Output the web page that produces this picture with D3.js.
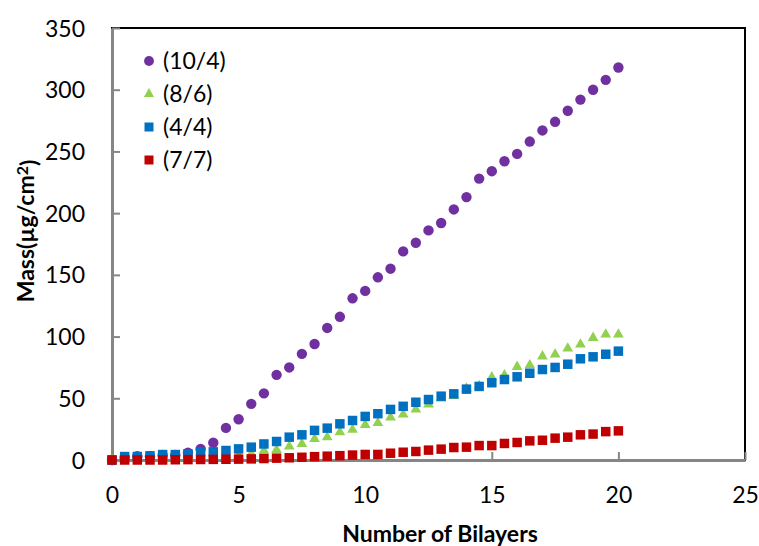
<!DOCTYPE html>
<html>
<head>
<meta charset="utf-8">
<script src="https://cdn.jsdelivr.net/npm/d3@7"></script>
<style>
  body { margin: 0; background: white; }
  text { font-family: Lato, "Open Sans", sans-serif; }
</style>
</head>
<body>
<svg id="chart" width="759" height="546"></svg>
<script>
/* DATA */

// Number of bilayers, 0 to 20 in half steps
const bilayers = [0, 0.5, 1, 1.5, 2, 2.5, 3, 3.5, 4, 4.5, 5, 5.5, 6, 6.5, 7, 7.5, 8, 8.5, 9, 9.5, 10,
  10.5, 11, 11.5, 12, 12.5, 13, 13.5, 14, 14.5, 15, 15.5, 16, 16.5, 17, 17.5, 18, 18.5, 19, 19.5, 20]

const mass10_4 = [0, 2, 3, 3, 4, 4, 6, 9, 14, 26, 33, 45.5, 54, 69, 75, 86, 94, 107, 116, 131, 137,
  148, 155, 169, 176, 186, 192, 203, 213, 228, 234, 242, 248, 258, 267, 274, 283, 292, 300, 308, 318]
const mass8_6 = [0, 0.5, 1, 1, 1.5, 1.5, 2, 2, 2.5, 3, 3.5, 5, 7.5, 8.2, 11, 13, 17, 18.5, 22.5, 24.5, 28.5,
  30, 34.5, 37, 41, 45, 50, 52, 58, 60, 67, 68.7, 75.5, 76.8, 84, 85.5, 90.4, 93.6, 99, 101.7, 101.7]
const mass4_4 = [0, 2.8, 2.8, 3.4, 4.4, 4.4, 5, 6.6, 6.6, 7.7, 9, 10.4, 13, 15, 18.5, 20.4, 24, 25.8, 29.3, 32, 35.3,
  37.5, 41, 43.5, 46.8, 49, 51.7, 53.6, 57.4, 59.6, 62.6, 65.2, 67.4, 70.3, 73.3, 75, 77.6, 82, 83.6, 85.7, 88.2]
const mass7_7 = [0, 0, 0, 0, 0, 0.2, 0.3, 0.4, 0.5, 0.6, 0.7, 0.9, 1.2, 1.5, 1.8, 2.2, 2.7, 3.1, 3.5, 4, 4.5,
  4.5, 5.5, 6.3, 6.9, 8, 8.8, 10.1, 10.4, 11.7, 11.7, 13.4, 14.2, 15.5, 16, 17.7, 18.5, 20.4, 21, 23, 23.6]

const seriesNames = ['(10/4)', '(8/6)', '(4/4)', '(7/7)']
const seriesValues = [mass10_4, mass8_6, mass4_4, mass7_7]

const xTicks = [0, 5, 10, 15, 20, 25]
const yTicks = [0, 50, 100, 150, 200, 250, 300, 350]

/* STYLE */

const purple = '#7030a0'
const green = '#92d050'
const blue = '#0070c0'
const red = '#c00000'
const axisGrey = '#868686'

const seriesColours = [purple, green, blue, red]
const seriesSymbols = [d3.symbolCircle, d3.symbolTriangle, d3.symbolSquare, d3.symbolSquare]
const symbolSizes = [85, 50, 90, 90]

/* CHART */

const svg = d3.select('#chart')
const plotLeft = 112
const plotRight = 745
const plotTop = 28
const plotBottom = 460

const x = d3.scaleLinear().domain([0, 25]).range([plotLeft, plotRight])
const y = d3.scaleLinear().domain([0, 350]).range([plotBottom, plotTop])

// Plot area border (black top and right)
svg.append('rect')
    .attr('x', plotLeft)
    .attr('y', plotTop)
    .attr('width', plotRight - plotLeft)
    .attr('height', plotBottom - plotTop)
    .attr('fill', 'none')
    .attr('stroke', 'black')
    .attr('stroke-width', 2)

// Axes: grey, inside ticks
const xAxis = svg.append('g')
    .attr('transform', `translate(0,${plotBottom})`)
    .call(d3.axisBottom(x).tickValues(xTicks).tickSizeInner(-8).tickSizeOuter(0).tickPadding(27))
const yAxis = svg.append('g')
    .attr('transform', `translate(${plotLeft},0)`)
    .call(d3.axisLeft(y).tickValues(yTicks).tickSizeInner(-8).tickSizeOuter(0).tickPadding(27))

;[xAxis, yAxis].forEach(ax => {
  ax.select('.domain').attr('stroke', axisGrey).attr('stroke-width', 3)
  ax.selectAll('.tick line').attr('stroke', axisGrey).attr('stroke-width', 2)
  ax.selectAll('.tick text')
      .attr('fill', 'black')
      .style('font-size', '23px')
      .style('font-family', 'Lato, "Open Sans", sans-serif')
})
yAxis.selectAll('.tick text').attr('dy', '0.35em')

// Series, drawn in legend order so red ends up on top
seriesValues.forEach((values, s) => {
  const symbol = d3.symbol().type(seriesSymbols[s]).size(symbolSizes[s])
  svg.append('g')
    .selectAll('path')
    .data(values.map((v, i) => [bilayers[i], v]))
    .enter().append('path')
      .attr('d', symbol)
      .attr('transform', d => `translate(${x(d[0])},${y(d[1])})`)
      .attr('fill', seriesColours[s])
})

// Legend
const legend = svg.append('g')
seriesNames.forEach((name, i) => {
  const ly = 61 + i * 33
  legend.append('path')
      .attr('d', d3.symbol().type(seriesSymbols[i]).size(symbolSizes[i] * 0.9)())
      .attr('transform', `translate(149,${ly})`)
      .attr('fill', seriesColours[i])
  legend.append('text')
      .attr('x', 163)
      .attr('y', ly)
      .attr('dy', '0.35em')
      .style('font-size', '23px')
      .text(name)
})

// Axis titles
svg.append('text')
    .attr('x', 440)
    .attr('y', 542)
    .attr('text-anchor', 'middle')
    .style('font-size', '23px')
    .style('font-weight', 'bold')
    .text('Number of Bilayers')

const yTitle = svg.append('text')
    .attr('transform', 'translate(34,231) rotate(-90)')
    .attr('text-anchor', 'middle')
    .style('font-size', '23px')
    .style('font-weight', 'bold')
yTitle.append('tspan').text('Mass(µg/cm')
yTitle.append('tspan').attr('dy', '-0.4em').style('font-size', '16px').text('2')
yTitle.append('tspan').attr('dy', '0.4em').text(')')
</script>
</body>
</html>
